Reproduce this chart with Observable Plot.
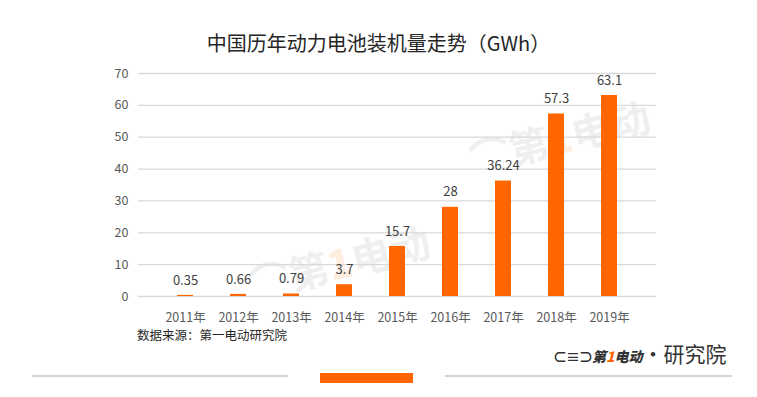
<!DOCTYPE html>
<html>
<head>
<meta charset="utf-8">
<script src="https://cdn.jsdelivr.net/npm/d3@7"></script>
<script src="https://cdn.jsdelivr.net/npm/@observablehq/plot@0.6"></script>
<style>
  body { margin: 0; background: #fff; font-family: "Noto Sans CJK SC", "Noto Sans", sans-serif; }
  #wrap { position: relative; width: 757px; height: 397px; overflow: hidden; background: #fff; }
  .abs { position: absolute; white-space: nowrap; }
  #title { left: 0; width: 757px; top: 29px; text-align: center; font-size: 20px; color: #262626; line-height: 28px; }
  #source { left: 137px; top: 326px; font-size: 12.5px; color: #262626; line-height: 18px; }
  .wm { color: rgba(200,200,200,0.28); font-size: 40px; font-weight: bold; transform: rotate(-14deg); transform-origin: left center; }
  .wm b { color: rgba(255,140,60,0.18); }
  #chart { position: absolute; left: 0; top: 0; }
</style>
</head>
<body>
<div id="wrap">
  <div class="abs wm" style="left:250px; top:255px;">⌒第<b>1</b>电动</div>
  <div class="abs wm" style="left:470px; top:130px;">⌒第<b>1</b>电动</div>
  <div id="chart"></div>
  <div id="title" class="abs">中国历年动力电池装机量走势（GWh）</div>
  <div id="source" class="abs">数据来源：第一电动研究院</div>
  <div class="abs" style="left:32px; top:375px; width:256px; height:2px; background:#d4d4d4;"></div>
  <div class="abs" style="left:320px; top:373px; width:93px; height:10px; background:#ff6600;"></div>
  <div class="abs" style="left:445px; top:375px; width:287px; height:2px; background:#d4d4d4;"></div>
  <div class="abs" style="left:553px; top:341px; line-height:24px; color:#333;">
    <span style="font-size:14px; font-weight:bold; letter-spacing:-1px;">⊂≡⊃</span><span style="font-size:14px; font-weight:900; font-style:italic;">第<span style="color:#ff6600;">1</span>电动</span><span style="font-size:21px;">·研究院</span>
  </div>
</div>
<script>
const years = ["2011年","2012年","2013年","2014年","2015年","2016年","2017年","2018年","2019年"];
const values = [0.35, 0.66, 0.79, 3.7, 15.7, 28, 36.24, 57.3, 63.1];
const valueLabels = ["0.35","0.66","0.79","3.7","15.7","28","36.24","57.3","63.1"];
const yTicks = [0, 10, 20, 30, 40, 50, 60, 70];

const data = years.map((y, i) => ({year: y, value: values[i], label: valueLabels[i]}));

const plot = Plot.plot({
  width: 757,
  height: 397,
  marginTop: 73,
  marginBottom: 101,
  marginLeft: 138,
  marginRight: 101,
  style: {background: "transparent", fontFamily: "'Noto Sans CJK SC', sans-serif", fontSize: "12px", color: "#595959"},
  x: {domain: years, padding: 0.69, label: null},
  y: {domain: [0, 70], ticks: yTicks, label: null},
  marks: [
    Plot.ruleY(yTicks, {stroke: "#d9d9d9", strokeWidth: 1.3}),
    Plot.barY(data, {x: "year", y: "value", fill: "#ff6600"}),
    Plot.text(data, {x: "year", y: "value", text: "label", dy: -15, fontSize: 13, fill: "#404040"}),
    Plot.axisY({ticks: yTicks, tickSize: 0, tickPadding: 10, fontSize: 12.5, fill: "#595959"}),
    Plot.axisX({tickSize: 0, tickPadding: 17, fontSize: 12.5, fill: "#595959"})
  ]
});
document.getElementById("chart").appendChild(plot);
</script>
</body>
</html>
